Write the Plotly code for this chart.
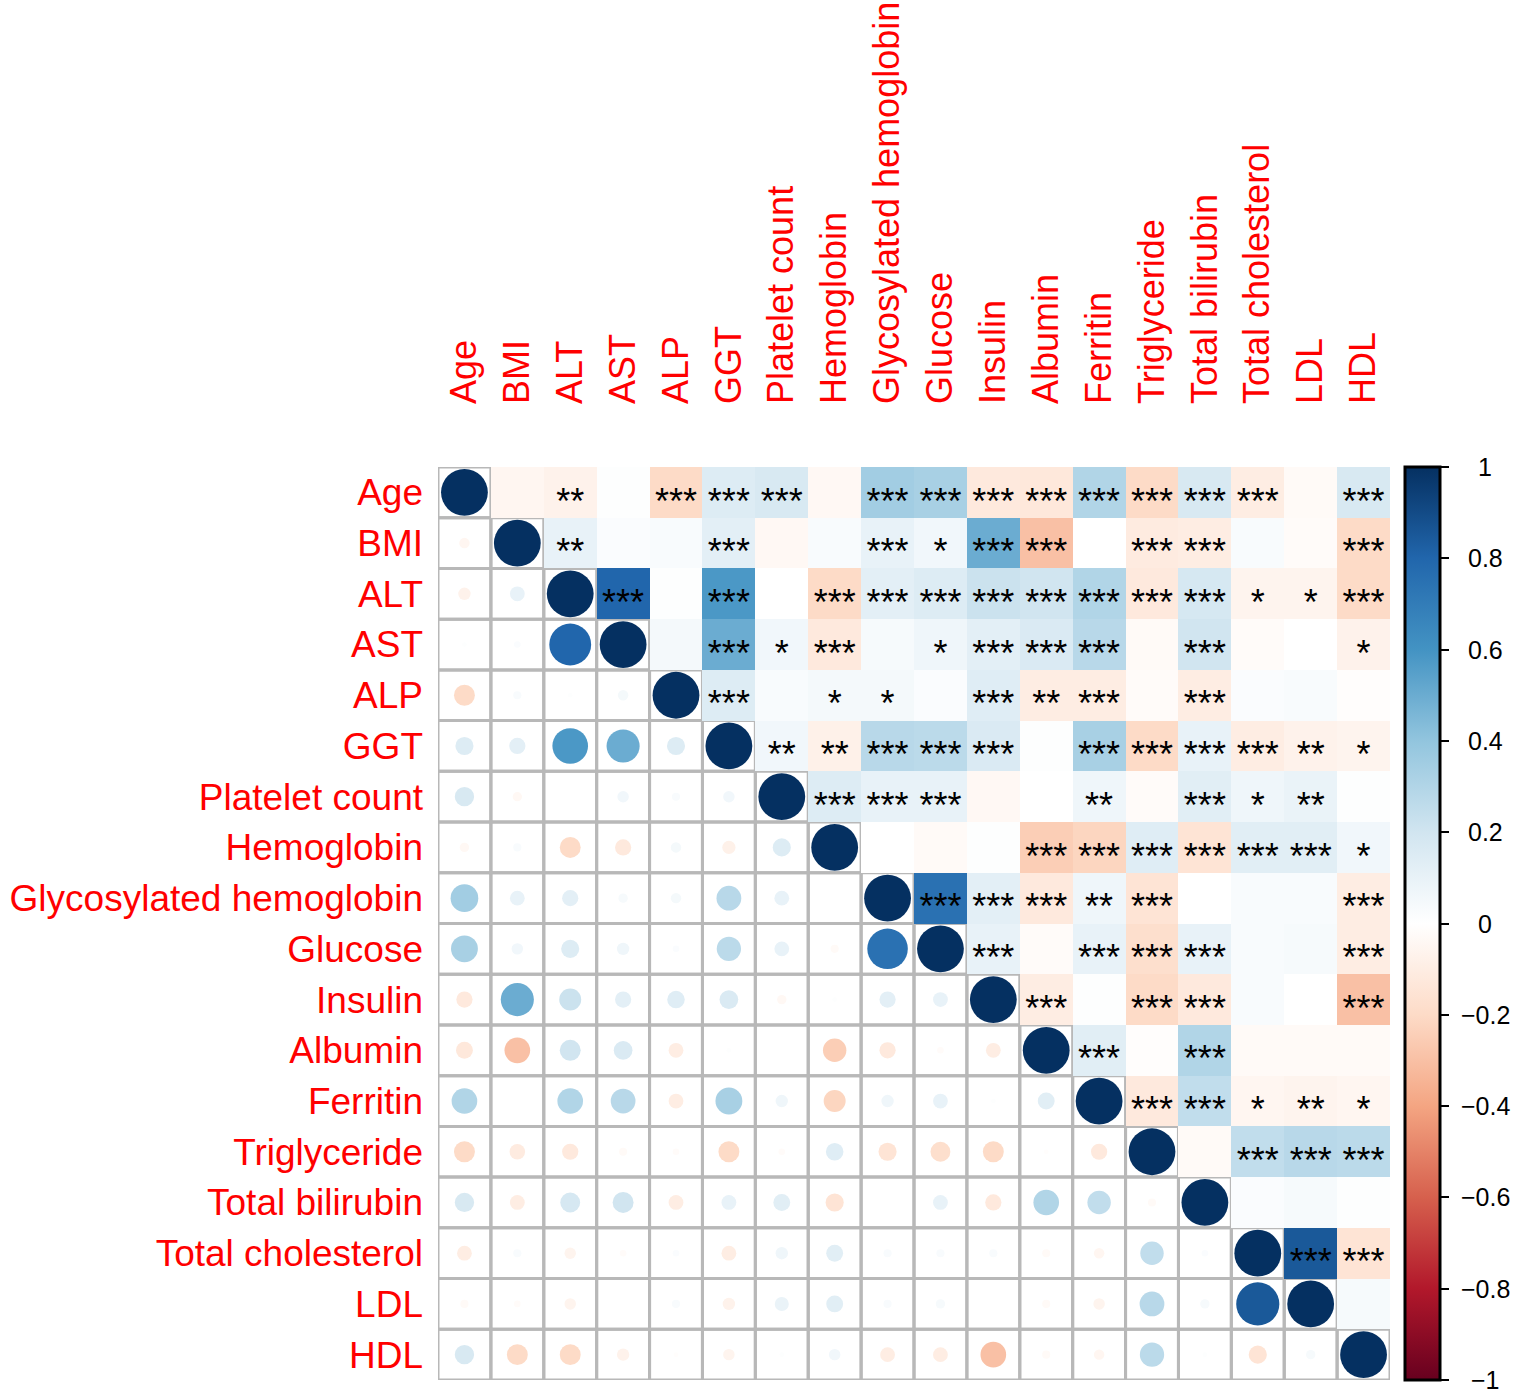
import numpy as np
import plotly.graph_objects as go

variables = ["Age", "BMI", "ALT", "AST", "ALP", "GGT", "Platelet count", "Hemoglobin",
             "Glycosylated hemoglobin", "Glucose", "Insulin", "Albumin", "Ferritin",
             "Triglyceride", "Total bilirubin", "Total cholesterol", "LDL", "HDL"]

# upper triangle correlations, row by row (columns to the right of the diagonal)
r_age = [-0.05, -0.07, 0.01, -0.20, 0.15, 0.17, -0.04, 0.35, 0.33, -0.12, -0.13, 0.30, -0.20, 0.17, -0.10, -0.03, 0.17]
r_bmi = [0.10, 0.02, 0.03, 0.12, -0.04, 0.03, 0.10, 0.06, 0.50, -0.30, 0.00, -0.11, -0.10, 0.03, -0.02, -0.20]
r_alt = [0.80, 0.01, 0.58, 0.00, -0.20, 0.12, 0.15, 0.22, 0.20, 0.30, -0.12, 0.18, -0.06, -0.06, -0.20]
r_ast = [0.05, 0.50, 0.06, -0.12, 0.04, 0.07, 0.12, 0.16, 0.28, -0.03, 0.20, -0.02, 0.00, -0.07]
r_alp = [0.15, 0.03, 0.05, 0.05, 0.02, 0.14, -0.10, -0.10, -0.02, -0.10, 0.02, 0.03, -0.01]
r_ggt = [0.06, -0.08, 0.28, 0.27, 0.16, 0.01, 0.33, -0.20, 0.10, -0.10, -0.07, -0.06]
r_plt = [0.15, 0.10, 0.10, -0.04, 0.00, 0.07, -0.02, 0.13, 0.07, 0.09, 0.01]
r_hgb = [0.00, -0.03, 0.01, -0.25, -0.22, 0.14, -0.15, 0.13, 0.13, 0.06]
r_hba1c = [0.75, 0.12, -0.12, 0.07, -0.15, 0.00, 0.03, 0.03, -0.10]
r_glu = [0.10, -0.02, 0.10, -0.18, 0.10, 0.03, 0.04, -0.10]
r_ins = [-0.10, 0.01, -0.20, -0.12, 0.03, 0.00, -0.30]
r_alb = [0.13, -0.01, 0.30, -0.03, -0.03, -0.03]
r_fer = [-0.12, 0.25, -0.05, -0.06, -0.05]
r_tg = [-0.03, 0.25, 0.28, 0.27]
r_tb = [0.02, 0.04, 0.01]
r_tc = [0.85, -0.15]
r_ldl = [0.04]

s_age = ["", "**", "", "***", "***", "***", "", "***", "***", "***", "***", "***", "***", "***", "***", "", "***"]
s_bmi = ["**", "", "", "***", "", "", "***", "*", "***", "***", "", "***", "***", "", "", "***"]
s_alt = ["***", "", "***", "", "***", "***", "***", "***", "***", "***", "***", "***", "*", "*", "***"]
s_ast = ["", "***", "*", "***", "", "*", "***", "***", "***", "", "***", "", "", "*"]
s_alp = ["***", "", "*", "*", "", "***", "**", "***", "", "***", "", "", ""]
s_ggt = ["**", "**", "***", "***", "***", "", "***", "***", "***", "***", "**", "*"]
s_plt = ["***", "***", "***", "", "", "**", "", "***", "*", "**", ""]
s_hgb = ["", "", "", "***", "***", "***", "***", "***", "***", "*"]
s_hba1c = ["***", "***", "***", "**", "***", "", "", "", "***"]
s_glu = ["***", "", "***", "***", "***", "", "", "***"]
s_ins = ["***", "", "***", "***", "", "", "***"]
s_alb = ["***", "", "***", "", "", ""]
s_fer = ["***", "***", "*", "**", "*"]
s_tg = ["", "***", "***", "***"]
s_tb = ["", "", ""]
s_tc = ["***", "***"]
s_ldl = [""]

upper_r = [r_age, r_bmi, r_alt, r_ast, r_alp, r_ggt, r_plt, r_hgb, r_hba1c,
           r_glu, r_ins, r_alb, r_fer, r_tg, r_tb, r_tc, r_ldl]
upper_s = [s_age, s_bmi, s_alt, s_ast, s_alp, s_ggt, s_plt, s_hgb, s_hba1c,
           s_glu, s_ins, s_alb, s_fer, s_tg, s_tb, s_tc, s_ldl]

cbar_vals = [-1, -0.8, -0.6, -0.4, -0.2, 0, 0.2, 0.4, 0.6, 0.8, 1]
cbar_text = ["\u22121", "\u22120.8", "\u22120.6", "\u22120.4", "\u22120.2", "0",
             "0.2", "0.4", "0.6", "0.8", "1"]

n = len(variables)
corr = np.eye(n)
for i, row in enumerate(upper_r):
    for k, v in enumerate(row):
        j = i + 1 + k
        corr[i, j] = v
        corr[j, i] = v

rdbu = ["#67001F", "#B2182B", "#D6604D", "#F4A582", "#FDDBC7", "#FFFFFF",
        "#D1E5F0", "#92C5DE", "#4393C3", "#2166AC", "#053061"]
colorscale = [[k / 10, c] for k, c in enumerate(rdbu)]

font_family = "Liberation Sans, Arial, sans-serif"
cell_px = 52

fig = go.Figure()

# upper triangle: coloured tiles
z_up = np.full((n, n), np.nan)
for i in range(n):
    for j in range(i + 1, n):
        z_up[i, j] = corr[i, j]

fig.add_trace(go.Heatmap(
    z=z_up, x=list(range(n)), y=list(range(n)),
    colorscale=colorscale, zmin=-1, zmax=1, hoverinfo="skip",
    colorbar=dict(
        x=1.0158, xanchor="left", xpad=0, ypad=0, y=0.5, len=1,
        thickness=35, outlinewidth=3, outlinecolor="black",
        tickvals=cbar_vals, showticklabels=False,
        ticks="outside", ticklen=8, tickwidth=2, tickcolor="black",
    ),
))

# lower triangle + diagonal: circles
cx, cy, cv = [], [], []
for i in range(n):
    for j in range(i + 1):
        cx.append(j)
        cy.append(i)
        cv.append(corr[i, j])
cv = np.array(cv)
fig.add_trace(go.Scatter(
    x=cx, y=cy, mode="markers", hoverinfo="skip",
    marker=dict(size=0.9 * np.sqrt(np.abs(cv)) * cell_px, color=cv, opacity=1,
                colorscale=colorscale, cmin=-1, cmax=1, line=dict(width=0)),
))

# significance stars
sx, sy, st = [], [], []
for i, row in enumerate(upper_s):
    for k, s in enumerate(row):
        if s:
            sx.append(i + 1 + k)
            sy.append(i + 0.24)
            st.append(s)
fig.add_trace(go.Scatter(
    x=sx, y=sy, mode="text", text=st, hoverinfo="skip",
    textfont=dict(size=36, color="black", family=font_family),
))

# grey grid for lower triangle cells
for i in range(n):
    for j in range(i + 1):
        fig.add_shape(type="rect", x0=j - 0.5, x1=j + 0.5, y0=i - 0.5, y1=i + 0.5,
                      line=dict(color="#B8B8B8", width=3), fillcolor="rgba(0,0,0,0)",
                      layer="below")

# colour legend labels, centred like corrplot
for v, t in zip(cbar_vals, cbar_text):
    fig.add_annotation(x=1.0998, y=(v + 1) / 2, xref="paper", yref="paper",
                       text=t, showarrow=False, xanchor="center", yanchor="middle",
                       font=dict(size=25, color="black", family=font_family))

fig.update_layout(
    width=1520, height=1395,
    margin=dict(l=438, r=130, t=467, b=15),
    plot_bgcolor="white", paper_bgcolor="white",
    showlegend=False,
    xaxis=dict(range=[-0.5, n - 0.5], side="top", tickvals=list(range(n)), ticktext=variables,
               tickangle=-90, showgrid=False, zeroline=False, showline=False,
               ticklabelstandoff=62, automargin=False,
               tickfont=dict(size=36, color="#FF0000", family=font_family)),
    yaxis=dict(range=[n - 0.5, -0.5], tickvals=list(range(n)), ticktext=variables,
               showgrid=False, zeroline=False, showline=False,
               ticklabelstandoff=14, automargin=False,
               tickfont=dict(size=37, color="#FF0000", family=font_family)),
)

fig.write_html("out.html", config={"displayModeBar": False},
               post_script="document.body.style.margin='0';")
